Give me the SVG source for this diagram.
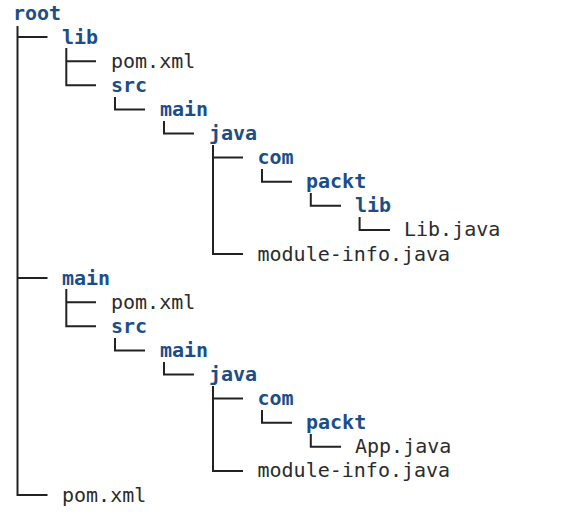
<svg xmlns="http://www.w3.org/2000/svg" width="566" height="522" viewBox="0 0 566 522">
<style>
text{font-family:"DejaVu Sans Mono","Liberation Mono",monospace;font-size:20px}
.d{fill:#1b4e89;font-weight:bold}
.f{fill:#2b2b2b}
#connectors path{fill:none;stroke:#222;stroke-width:2}
</style>
<rect width="566" height="522" fill="#fff"/>
<g id="connectors">
<path d="M17.5 26V495H47.5M17.5 37H47.5M17.5 278.1H47.5"/>
<path d="M66.3 48V85.3H96M66.3 61.2H96"/>
<path d="M115 97V109.4H145"/>
<path d="M164 121V133.5H194"/>
<path d="M213 145V254H243M213 157.6H243"/>
<path d="M262 169V181.7H292"/>
<path d="M310.8 193V205.8H341"/>
<path d="M359.6 217V229.9H390"/>
<path d="M66.3 289V326.3H96M66.3 302.2H96"/>
<path d="M115 338V350.4H145"/>
<path d="M164 362V374.5H194"/>
<path d="M213 386V470.9H243M213 398.6H243"/>
<path d="M262 410V422.7H292"/>
<path d="M310.8 434V446.8H341"/>
</g>
<g id="root"><text class="d" x="13" y="20">root</text></g>
<g id="lib"><text class="d" x="62" y="43.5">lib</text></g>
<g id="lib-pom"><text class="f" x="111" y="67.7">pom.xml</text></g>
<g id="lib-src"><text class="d" x="111" y="91.8">src</text></g>
<g id="lib-main"><text class="d" x="160" y="115.9">main</text></g>
<g id="lib-java"><text class="d" x="209" y="140">java</text></g>
<g id="lib-com"><text class="d" x="257.5" y="164.1">com</text></g>
<g id="lib-packt"><text class="d" x="306" y="188.2">packt</text></g>
<g id="lib-lib"><text class="d" x="355" y="212.3">lib</text></g>
<g id="lib-libjava"><text class="f" x="404" y="236.4">Lib.java</text></g>
<g id="lib-module-info"><text class="f" x="257.5" y="260.5">module-info.java</text></g>
<g id="main"><text class="d" x="62" y="284.6">main</text></g>
<g id="main-pom"><text class="f" x="111" y="308.7">pom.xml</text></g>
<g id="main-src"><text class="d" x="111" y="332.8">src</text></g>
<g id="main-main"><text class="d" x="160" y="356.9">main</text></g>
<g id="main-java"><text class="d" x="209" y="381">java</text></g>
<g id="main-com"><text class="d" x="257.5" y="405.1">com</text></g>
<g id="main-packt"><text class="d" x="306" y="429.2">packt</text></g>
<g id="main-appjava"><text class="f" x="355" y="453.3">App.java</text></g>
<g id="main-module-info"><text class="f" x="257.5" y="477.4">module-info.java</text></g>
<g id="root-pom"><text class="f" x="62" y="501.5">pom.xml</text></g>
</svg>
